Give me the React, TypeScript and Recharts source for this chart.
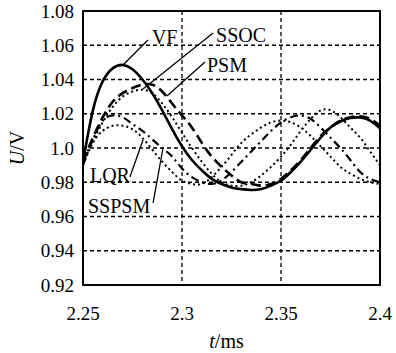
import React from 'react';
import {
  LineChart,
  Line,
  XAxis,
  YAxis,
  CartesianGrid,
  ReferenceArea,
  ReferenceLine,
  ReferenceDot,
} from 'recharts';

const TIME = [
  2.25, 2.255, 2.26, 2.265, 2.27, 2.275, 2.28, 2.285, 2.29, 2.295, 2.3, 2.305, 2.31, 2.315, 2.32, 2.325,
  2.33, 2.335, 2.34, 2.345, 2.35, 2.355, 2.36, 2.365, 2.37, 2.375, 2.38, 2.385, 2.39, 2.395, 2.4,
];

const VF = [
  0.992, 1.022, 1.039, 1.0465, 1.0485, 1.046, 1.04, 1.032, 1.022, 1.011, 1.001, 0.993, 0.987, 0.982, 0.979, 0.977,
  0.976, 0.9755, 0.976, 0.978, 0.981, 0.986, 0.992, 0.999, 1.006, 1.012, 1.0155, 1.0175, 1.0178, 1.016, 1.0115,
];

const SSOC = [
  0.993, 1.004, 1.015, 1.024, 1.03, 1.033, 1.034, 1.032, 1.026, 1.018, 1.009, 1.0, 0.992, 0.985, 0.98, 0.978,
  0.978, 0.98, 0.984, 0.989, 0.995, 1.002, 1.01, 1.017, 1.022, 1.022, 1.018, 1.012, 1.006, 0.998, 0.99,
];

const PSM = [
  0.992, 1.006, 1.018, 1.027, 1.032, 1.035, 1.037, 1.037, 1.033, 1.026, 1.019, 1.012, 1.003, 0.995, 0.989, 0.984,
  0.98, 0.979, 0.978, 0.979, 0.982, 0.987, 0.993, 1.0, 1.007, 1.012, 1.016, 1.018, 1.0185, 1.017, 1.013,
];

const LQR = [
  0.99, 1.003, 1.01, 1.013, 1.013, 1.011, 1.006, 0.999, 0.992, 0.986, 0.981, 0.979, 0.979, 0.983, 0.989, 0.996,
  1.003, 1.008, 1.012, 1.015, 1.016, 1.015, 1.012, 1.007, 1.001, 0.995, 0.989, 0.985, 0.982, 0.98, 0.979,
];

const SSPSM = [
  0.99, 1.005, 1.016, 1.019, 1.018, 1.014, 1.01, 1.005, 1.0, 0.995, 0.988, 0.983, 0.98, 0.979, 0.981, 0.986,
  0.992, 0.998, 1.004, 1.01, 1.015, 1.018, 1.019, 1.017, 1.012, 1.006, 1.0, 0.993, 0.986, 0.982, 0.98,
];

const X_TICKS = [2.25, 2.3, 2.35, 2.4];
const X_TICK_LABELS = ['2.25', '2.3', '2.35', '2.4'];
const Y_TICKS = [0.92, 0.94, 0.96, 0.98, 1.0, 1.02, 1.04, 1.06, 1.08];
const Y_TICK_LABELS = ['0.92', '0.94', '0.96', '0.98', '1.0', '1.02', '1.04', '1.06', '1.08'];

// annotation: label text anchor (left/baseline) and pointer segment, in data units
const LABEL_NAMES = ['VF', 'SSOC', 'PSM', 'LQR', 'SSPSM'];
const LABEL_POS = [
  [2.2848, 1.0607],
  [2.3172, 1.0619],
  [2.3126, 1.0444],
  [2.2535, 0.9801],
  [2.2525, 0.962],
];
const POINTER_FROM = [
  [2.2828, 1.0631],
  [2.3157, 1.0672],
  [2.3116, 1.0502],
  [2.2737, 0.9831],
  [2.2854, 0.9679],
];
const POINTER_TO = [
  [2.2702, 1.0485],
  [2.2803, 1.0345],
  [2.2924, 1.0304],
  [2.2803, 1.0047],
  [2.2904, 1.0],
];

const data = TIME.map((t, i) => ({
  t,
  VF: VF[i],
  SSOC: SSOC[i],
  PSM: PSM[i],
  LQR: LQR[i],
  SSPSM: SSPSM[i],
}));

const FONT = '"Times New Roman", "Liberation Serif", Times, serif';

const YLabel = (props: any) => {
  const vb = props.viewBox || {};
  const cx = vb.x - 6;
  const cy = vb.y + vb.height / 2;
  return (
    <text
      x={cx}
      y={cy}
      transform={`rotate(-90, ${cx}, ${cy})`}
      textAnchor="middle"
      dominantBaseline="central"
      style={{ fontFamily: FONT, fontSize: 20 }}
      fill="#000"
    >
      <tspan fontStyle="italic">U</tspan>
      <tspan>/V</tspan>
    </text>
  );
};

const XLabel = (props: any) => {
  const vb = props.viewBox || {};
  const cx = vb.x + vb.width / 2 - 5;
  return (
    <text x={cx} y={348} textAnchor="middle" style={{ fontFamily: FONT, fontSize: 20 }} fill="#000">
      <tspan fontStyle="italic">t</tspan>
      <tspan>/ms</tspan>
    </text>
  );
};

const TICK_STYLE = { fill: '#000', fontSize: 19, style: { fontFamily: FONT } };

export default function App() {
  return (
    <div style={{ position: 'absolute', left: 0, top: 0, background: '#fff', fontFamily: FONT }}>
      <LineChart
        width={396}
        height={353}
        data={data}
        margin={{ top: 11, right: 16, bottom: 28, left: 23 }}
        style={{ fontFamily: FONT }}
      >
        <CartesianGrid stroke="#000" strokeWidth={1.3} strokeDasharray="4 3" />
        <XAxis
          dataKey="t"
          type="number"
          domain={[2.25, 2.4]}
          ticks={X_TICKS}
          tickFormatter={(v: number) => X_TICK_LABELS[X_TICKS.indexOf(v)]}
          height={40}
          tickLine={false}
          tickSize={0}
          tickMargin={22}
          axisLine={false}
          tick={TICK_STYLE}
          interval={0}
          allowDataOverflow
          label={<XLabel />}
        />
        <YAxis
          type="number"
          domain={[0.92, 1.08]}
          ticks={Y_TICKS}
          tickFormatter={(v: number) => Y_TICK_LABELS[Y_TICKS.indexOf(v)]}
          width={60}
          tickLine={false}
          tickSize={0}
          tickMargin={9}
          axisLine={false}
          tick={TICK_STYLE}
          interval={0}
          allowDataOverflow
          label={<YLabel />}
        />
        <Line type="natural" dataKey="LQR" stroke="#000" strokeWidth={2} strokeDasharray="2 3" dot={false} isAnimationActive={false} />
        <Line type="natural" dataKey="SSOC" stroke="#000" strokeWidth={2} strokeDasharray="2 3" dot={false} isAnimationActive={false} />
        <Line type="natural" dataKey="SSPSM" stroke="#000" strokeWidth={2.2} strokeDasharray="8 4 2 4" dot={false} isAnimationActive={false} />
        <Line type="natural" dataKey="PSM" stroke="#000" strokeWidth={2.6} strokeDasharray="10 5" dot={false} isAnimationActive={false} />
        <Line type="natural" dataKey="VF" stroke="#000" strokeWidth={2.6} dot={false} isAnimationActive={false} />
        {LABEL_NAMES.map((n, i) => (
          <ReferenceLine
            key={'p' + n}
            segment={[
              { x: POINTER_FROM[i][0], y: POINTER_FROM[i][1] },
              { x: POINTER_TO[i][0], y: POINTER_TO[i][1] },
            ]}
            stroke="#000"
            strokeWidth={1.3}
            ifOverflow="visible"
          />
        ))}
        {LABEL_NAMES.map((n, i) => (
          <ReferenceDot
            key={'l' + n}
            x={LABEL_POS[i][0]}
            y={LABEL_POS[i][1]}
            r={0}
            ifOverflow="visible"
            shape={(p: any) => (
              <text x={p.cx} y={p.cy} style={{ fontFamily: FONT, fontSize: 20 }} fill="#000">
                {n}
              </text>
            )}
          />
        ))}
        <ReferenceArea
          x1={2.25}
          x2={2.4}
          y1={0.92}
          y2={1.08}
          fill="none"
          fillOpacity={0}
          stroke="#000"
          strokeWidth={2}
          ifOverflow="visible"
        />
      </LineChart>
    </div>
  );
}
